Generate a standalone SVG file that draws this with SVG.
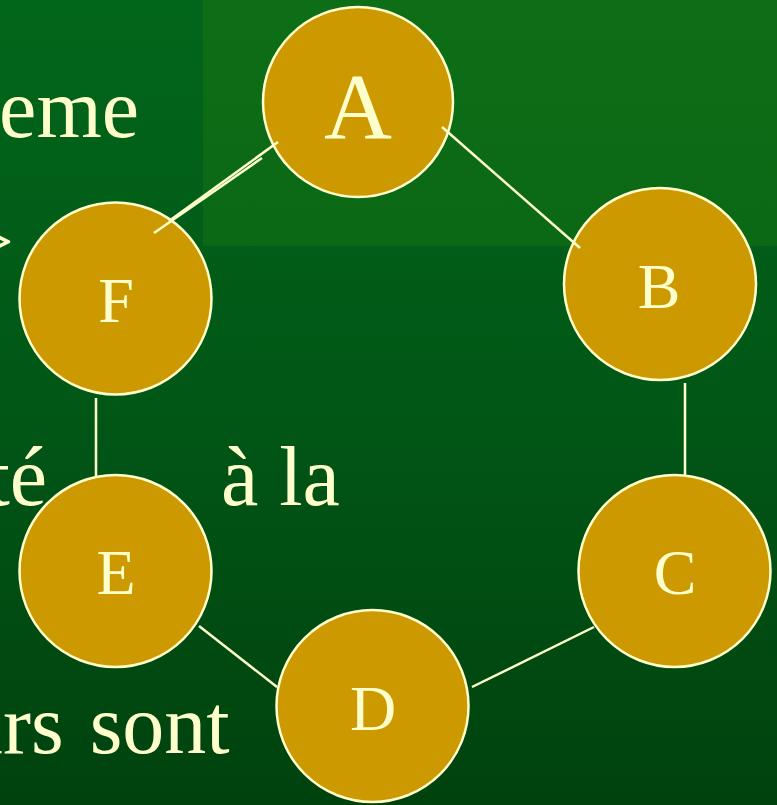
<svg xmlns="http://www.w3.org/2000/svg" width="777" height="805" viewBox="0 0 777 805">
<defs>
<linearGradient id="bg" x1="0" y1="0" x2="0" y2="1">
<stop offset="0" stop-color="#02661a"/>
<stop offset="0.5" stop-color="#015716"/>
<stop offset="1" stop-color="#00420e"/>
</linearGradient>
<linearGradient id="hl" x1="0" y1="0" x2="0" y2="1">
<stop offset="0" stop-color="#0e6e17"/>
<stop offset="1" stop-color="#0b6815"/>
</linearGradient>
</defs>
<style>
.txt{font-family:"Liberation Serif","Times New Roman",serif;fill:#ffffcc}
.big{font-size:84px}
.node circle{fill:#cc9900;stroke:#ffffcc;stroke-width:2.5}
.node text{font-family:"Liberation Serif","Times New Roman",serif;fill:#ffffcc;font-size:64px;text-anchor:middle}
.edges line{stroke:#ffffcc;stroke-width:2.5}
</style>
<rect width="777" height="805" fill="url(#bg)"/>
<rect x="203" y="0" width="574" height="246" fill="url(#hl)"/>
<g id="background-text">
<text class="txt big" x="139" y="137" text-anchor="end">eme</text>
<text class="txt big" x="14" y="270" text-anchor="end">&gt;</text>
<text class="txt big" x="47" y="505" text-anchor="end">té</text>
<text class="txt big" x="221" y="505">à la</text>
<text class="txt big" x="-39" y="753" word-spacing="5">urs sont</text>
</g>
<g id="node-A" class="node">
<circle cx="358" cy="102" r="95"/>
<text x="358" y="138" style="font-size:94px">A</text>
</g>
<g id="node-B" class="node">
<circle cx="660" cy="284" r="96"/>
<text x="659" y="308">B</text>
</g>
<g id="node-C" class="node">
<circle cx="674.5" cy="571" r="96"/>
<text x="675" y="594">C</text>
</g>
<g id="node-D" class="node">
<circle cx="372.5" cy="706" r="96"/>
<text x="373" y="730">D</text>
</g>
<g id="node-E" class="node">
<circle cx="115.5" cy="571" r="96"/>
<text x="116" y="594">E</text>
</g>
<g id="node-F" class="node">
<circle cx="115.5" cy="298.5" r="96"/>
<text x="116" y="322">F</text>
</g>
<g id="connectors" class="edges">
<line x1="278" y1="142" x2="169" y2="221"/>
<line x1="262" y1="158" x2="154" y2="233"/>
<line x1="442" y1="127" x2="580" y2="248"/>
<line x1="685" y1="383" x2="685" y2="475"/>
<line x1="594" y1="627" x2="472" y2="687"/>
<line x1="199" y1="626" x2="277" y2="687"/>
<line x1="96" y1="398" x2="96" y2="477"/>
</g>
</svg>
